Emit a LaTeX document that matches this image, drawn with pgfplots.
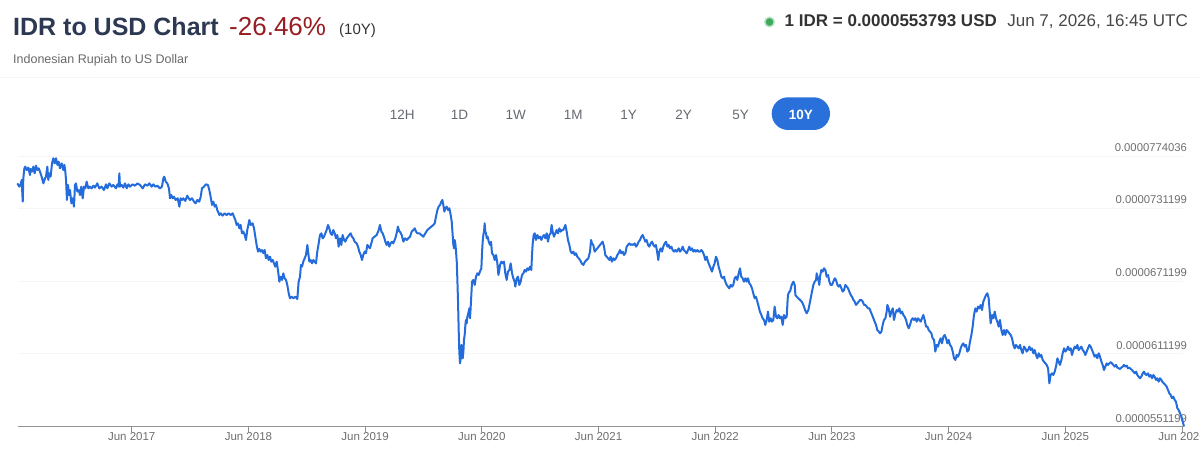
\documentclass[border=0pt]{standalone}
\usepackage{fontspec}
\setmainfont{Liberation Sans}
\usepackage{pgfplots}
\pgfplotsset{compat=1.18}
\usepackage{pgfplotstable}
\definecolor{lineblue}{RGB}{36,108,220}
\definecolor{pillblue}{RGB}{41,112,219}
\definecolor{titlenavy}{RGB}{45,57,82}
\definecolor{pctred}{RGB}{150,30,35}
\definecolor{subgray}{RGB}{105,105,105}
\definecolor{tickgray}{RGB}{110,110,110}
\definecolor{btngray}{RGB}{100,104,112}
\definecolor{dotgreen}{RGB}{60,170,90}

\pgfplotstableread{
year value
2016.434 75.18
2016.451 74.91
2016.462 75.10
2016.471 75.46
2016.480 73.67
2016.485 75.60
2016.494 76.42
2016.502 76.56
2016.514 76.28
2016.528 76.48
2016.542 75.87
2016.548 76.37
2016.559 76.15
2016.571 76.56
2016.582 76.01
2016.594 76.64
2016.605 76.28
2016.617 76.42
2016.628 76.15
2016.642 75.73
2016.657 75.18
2016.671 75.60
2016.679 75.73
2016.691 76.56
2016.699 75.46
2016.708 76.01
2016.719 75.73
2016.731 76.83
2016.742 77.25
2016.754 76.83
2016.765 77.25
2016.777 76.70
2016.788 76.97
2016.799 76.42
2016.814 76.83
2016.828 76.28
2016.837 76.70
2016.845 76.15
2016.851 75.46
2016.859 73.81
2016.868 75.05
2016.877 74.22
2016.885 74.63
2016.897 73.53
2016.908 73.95
2016.919 73.26
2016.928 75.05
2016.936 75.18
2016.948 74.50
2016.959 74.63
2016.971 74.22
2016.982 74.91
2016.994 73.95
2017.005 74.91
2017.016 74.77
2017.028 75.32
2017.042 74.77
2017.056 74.91
2017.071 74.77
2017.085 74.99
2017.099 74.83
2017.119 75.18
2017.136 74.77
2017.156 74.91
2017.176 74.63
2017.194 75.10
2017.205 74.77
2017.222 75.18
2017.242 74.91
2017.256 75.05
2017.279 74.77
2017.291 75.10
2017.302 74.91
2017.308 76.01
2017.313 74.91
2017.328 75.05
2017.342 74.83
2017.356 75.18
2017.371 74.77
2017.385 75.10
2017.399 74.91
2017.422 75.10
2017.442 74.99
2017.462 75.18
2017.485 75.05
2017.508 74.77
2017.528 75.10
2017.548 74.99
2017.565 75.18
2017.585 74.91
2017.599 75.10
2017.616 74.91
2017.633 74.99
2017.656 74.77
2017.673 74.91
2017.685 75.60
2017.693 75.73
2017.705 75.32
2017.719 75.18
2017.733 74.77
2017.742 73.95
2017.753 74.22
2017.765 73.95
2017.776 74.08
2017.790 73.81
2017.808 73.95
2017.822 73.26
2017.833 73.95
2017.845 73.81
2017.856 73.95
2017.873 73.73
2017.890 74.17
2017.902 73.95
2017.913 73.81
2017.930 73.95
2017.948 73.67
2017.962 73.53
2017.976 73.81
2017.993 73.67
2018.005 74.08
2018.016 74.77
2018.033 74.91
2018.050 75.10
2018.067 75.05
2018.079 74.63
2018.090 74.08
2018.102 73.40
2018.113 73.67
2018.125 73.26
2018.136 73.40
2018.147 72.98
2018.165 72.57
2018.176 72.71
2018.193 72.52
2018.210 72.71
2018.227 72.57
2018.245 72.71
2018.262 72.57
2018.279 72.71
2018.290 72.43
2018.302 72.16
2018.313 71.75
2018.325 71.88
2018.336 71.47
2018.347 71.75
2018.359 71.06
2018.370 71.20
2018.382 70.92
2018.393 70.51
2018.404 71.33
2018.416 71.88
2018.422 72.16
2018.433 71.75
2018.450 71.88
2018.462 71.47
2018.473 70.78
2018.484 70.10
2018.496 69.55
2018.507 69.77
2018.519 69.55
2018.530 69.68
2018.542 69.41
2018.553 69.68
2018.564 69.00
2018.576 69.27
2018.587 68.86
2018.599 69.13
2018.610 68.72
2018.622 68.86
2018.633 68.58
2018.644 68.31
2018.656 68.72
2018.667 68.03
2018.679 67.07
2018.690 67.48
2018.702 67.21
2018.713 67.76
2018.724 67.35
2018.736 67.21
2018.747 66.80
2018.759 66.11
2018.770 65.70
2018.784 65.83
2018.799 65.70
2018.816 65.83
2018.833 65.64
2018.844 67.07
2018.856 67.48
2018.864 68.45
2018.873 68.31
2018.884 68.72
2018.896 69.00
2018.907 69.27
2018.919 70.10
2018.927 69.41
2018.936 68.72
2018.947 68.86
2018.959 68.58
2018.970 68.86
2018.981 68.72
2018.993 68.58
2019.004 69.55
2019.016 70.23
2019.027 70.92
2019.039 71.06
2019.050 70.65
2019.061 70.78
2019.073 71.06
2019.084 71.33
2019.096 71.75
2019.107 71.47
2019.118 71.06
2019.130 70.92
2019.141 71.33
2019.153 71.06
2019.164 70.65
2019.176 70.92
2019.187 69.96
2019.198 70.65
2019.210 70.10
2019.221 70.92
2019.233 70.51
2019.244 70.37
2019.256 70.65
2019.267 70.78
2019.278 70.92
2019.290 71.06
2019.301 70.78
2019.313 70.65
2019.324 70.37
2019.341 70.23
2019.353 69.96
2019.364 69.55
2019.376 69.27
2019.387 68.86
2019.398 69.27
2019.410 69.55
2019.421 69.41
2019.433 70.10
2019.444 69.96
2019.455 69.82
2019.467 70.23
2019.478 70.65
2019.495 70.78
2019.513 70.92
2019.530 71.33
2019.541 71.75
2019.553 71.20
2019.564 71.06
2019.575 70.78
2019.587 70.37
2019.598 70.10
2019.610 70.37
2019.621 69.96
2019.632 70.23
2019.644 70.37
2019.655 70.23
2019.673 70.65
2019.684 71.06
2019.695 71.61
2019.707 71.20
2019.713 71.20
2019.727 70.92
2019.742 70.37
2019.756 70.65
2019.770 70.51
2019.784 70.65
2019.799 70.78
2019.813 71.20
2019.827 71.33
2019.839 71.47
2019.850 71.20
2019.862 71.06
2019.879 71.06
2019.896 70.92
2019.913 70.78
2019.930 71.06
2019.947 71.33
2019.964 71.47
2019.981 71.61
2019.999 71.75
2020.010 71.88
2020.021 72.43
2020.033 72.98
2020.044 73.26
2020.056 73.40
2020.067 73.67
2020.076 73.81
2020.084 73.40
2020.093 72.85
2020.101 73.12
2020.113 73.26
2020.124 72.98
2020.136 73.12
2020.147 72.57
2020.156 72.02
2020.164 70.92
2020.170 70.10
2020.176 69.82
2020.181 70.51
2020.187 70.23
2020.193 69.55
2020.199 68.72
2020.204 67.35
2020.210 65.42
2020.216 62.95
2020.221 61.30
2020.227 60.33
2020.233 60.75
2020.239 61.85
2020.244 61.57
2020.250 60.75
2020.256 61.30
2020.261 62.26
2020.267 62.67
2020.273 63.50
2020.278 63.91
2020.284 63.63
2020.290 64.18
2020.298 64.46
2020.307 64.87
2020.313 64.05
2020.321 65.42
2020.330 67.07
2020.341 67.21
2020.353 66.80
2020.364 67.48
2020.376 67.76
2020.387 67.62
2020.398 67.90
2020.410 68.17
2020.416 69.55
2020.421 70.37
2020.427 70.92
2020.433 71.20
2020.438 71.88
2020.444 71.20
2020.450 71.06
2020.456 70.65
2020.464 70.78
2020.473 70.37
2020.484 70.10
2020.493 70.37
2020.501 69.41
2020.513 69.27
2020.524 68.86
2020.536 69.27
2020.547 68.58
2020.556 67.62
2020.564 68.03
2020.570 68.45
2020.581 68.72
2020.593 68.58
2020.604 68.72
2020.615 67.76
2020.627 67.21
2020.638 67.90
2020.650 68.03
2020.661 68.58
2020.673 67.76
2020.684 67.35
2020.695 67.07
2020.701 66.66
2020.713 67.35
2020.724 67.48
2020.735 66.80
2020.747 67.07
2020.758 67.62
2020.770 67.76
2020.781 68.03
2020.793 67.90
2020.804 68.17
2020.815 68.03
2020.827 68.31
2020.838 68.03
2020.844 69.27
2020.850 70.23
2020.858 70.92
2020.867 71.06
2020.878 70.51
2020.890 70.92
2020.901 70.65
2020.913 70.78
2020.924 70.51
2020.935 70.78
2020.947 70.92
2020.958 70.65
2020.970 71.06
2020.981 70.37
2020.992 70.92
2021.004 71.06
2021.012 71.75
2021.021 71.20
2021.032 70.78
2021.044 71.06
2021.055 71.33
2021.067 71.06
2021.078 71.47
2021.090 71.20
2021.101 71.33
2021.112 71.33
2021.124 71.61
2021.130 71.75
2021.141 71.20
2021.152 70.51
2021.164 70.10
2021.175 69.55
2021.187 69.41
2021.198 69.55
2021.210 69.27
2021.221 69.41
2021.232 69.13
2021.244 69.00
2021.255 68.86
2021.270 68.58
2021.284 68.45
2021.298 68.72
2021.312 68.86
2021.327 69.00
2021.341 69.55
2021.350 70.51
2021.358 70.23
2021.369 70.10
2021.381 69.55
2021.392 69.68
2021.404 69.82
2021.415 69.96
2021.427 70.10
2021.438 70.23
2021.449 70.37
2021.461 69.96
2021.472 69.27
2021.484 69.13
2021.495 69.00
2021.507 68.86
2021.518 69.13
2021.529 68.72
2021.541 69.00
2021.552 68.86
2021.564 69.00
2021.575 69.27
2021.586 69.41
2021.598 69.68
2021.609 69.41
2021.621 69.55
2021.632 69.27
2021.644 69.41
2021.655 69.96
2021.666 70.10
2021.678 70.23
2021.689 70.10
2021.701 70.15
2021.712 70.10
2021.724 70.23
2021.735 69.96
2021.746 70.10
2021.758 70.37
2021.769 70.51
2021.781 70.78
2021.792 70.92
2021.804 70.65
2021.815 70.37
2021.826 70.51
2021.838 70.10
2021.849 69.96
2021.861 70.23
2021.872 70.37
2021.884 70.10
2021.895 69.96
2021.906 70.10
2021.918 69.41
2021.926 68.86
2021.935 69.55
2021.946 69.82
2021.958 69.55
2021.969 69.96
2021.981 70.23
2021.992 70.37
2022.004 69.96
2022.015 70.10
2022.026 69.82
2022.038 69.96
2022.049 69.68
2022.061 69.55
2022.072 69.68
2022.084 69.55
2022.101 69.82
2022.112 69.55
2022.124 69.68
2022.135 69.96
2022.146 69.68
2022.158 69.55
2022.169 69.41
2022.181 69.68
2022.192 69.96
2022.203 69.68
2022.215 69.82
2022.226 69.55
2022.238 69.68
2022.249 69.55
2022.261 69.68
2022.272 69.55
2022.283 69.55
2022.295 69.68
2022.306 69.55
2022.318 69.27
2022.329 68.86
2022.341 69.13
2022.352 68.72
2022.363 68.45
2022.375 68.17
2022.386 67.90
2022.398 68.31
2022.409 68.58
2022.420 69.13
2022.432 68.86
2022.443 68.31
2022.455 67.90
2022.466 67.48
2022.478 67.35
2022.489 67.48
2022.500 67.07
2022.512 66.80
2022.523 66.66
2022.535 66.52
2022.546 66.80
2022.558 66.66
2022.569 66.80
2022.580 67.35
2022.592 67.48
2022.603 67.21
2022.615 67.76
2022.626 68.17
2022.637 67.48
2022.649 67.35
2022.660 67.07
2022.672 67.35
2022.683 67.07
2022.695 67.35
2022.706 66.93
2022.717 66.80
2022.729 66.52
2022.740 66.11
2022.752 65.70
2022.763 65.83
2022.775 65.42
2022.786 65.01
2022.797 64.60
2022.809 64.32
2022.820 64.05
2022.832 63.91
2022.843 63.50
2022.855 63.91
2022.866 64.60
2022.877 63.77
2022.889 64.05
2022.900 63.77
2022.912 63.91
2022.923 65.01
2022.935 64.18
2022.946 64.05
2022.957 64.32
2022.969 64.05
2022.980 64.18
2022.992 63.50
2023.003 64.32
2023.014 64.05
2023.026 64.18
2023.037 65.97
2023.049 66.25
2023.055 66.25
2023.069 66.80
2023.084 67.07
2023.095 66.80
2023.101 65.97
2023.112 65.83
2023.126 65.70
2023.141 65.56
2023.155 65.42
2023.169 65.15
2023.184 64.73
2023.198 64.46
2023.212 64.73
2023.221 65.15
2023.232 65.70
2023.243 66.25
2023.255 66.80
2023.266 67.07
2023.278 67.21
2023.283 67.76
2023.295 67.35
2023.306 66.80
2023.312 67.48
2023.323 68.03
2023.335 67.90
2023.346 68.17
2023.358 68.03
2023.369 67.48
2023.381 67.62
2023.392 67.07
2023.403 66.80
2023.415 66.80
2023.426 67.07
2023.438 67.35
2023.449 67.21
2023.461 66.80
2023.472 66.66
2023.483 66.80
2023.495 66.52
2023.506 66.25
2023.518 66.38
2023.529 66.80
2023.541 66.66
2023.552 66.52
2023.563 66.25
2023.575 65.97
2023.586 65.83
2023.598 65.56
2023.609 65.42
2023.620 65.15
2023.632 65.28
2023.643 65.42
2023.655 65.56
2023.666 65.56
2023.678 65.42
2023.689 65.15
2023.700 65.15
2023.712 65.01
2023.723 64.87
2023.735 64.87
2023.746 64.60
2023.758 64.32
2023.769 64.05
2023.780 63.77
2023.792 63.50
2023.803 63.08
2023.815 62.95
2023.826 62.81
2023.838 62.95
2023.849 63.50
2023.860 63.91
2023.872 64.05
2023.883 64.60
2023.889 65.15
2023.900 64.87
2023.912 64.18
2023.923 64.60
2023.935 64.87
2023.946 63.91
2023.958 64.46
2023.969 64.73
2023.980 64.60
2023.992 64.87
2024.003 64.46
2024.015 64.60
2024.026 64.32
2024.037 64.18
2024.049 63.91
2024.060 63.50
2024.072 63.22
2024.083 63.50
2024.095 63.91
2024.106 64.05
2024.117 63.91
2024.129 64.05
2024.140 63.77
2024.152 64.05
2024.163 63.91
2024.175 63.77
2024.186 64.05
2024.197 64.32
2024.209 63.91
2024.220 63.36
2024.232 63.36
2024.243 63.08
2024.255 62.95
2024.266 62.81
2024.277 62.40
2024.289 62.26
2024.300 61.30
2024.312 61.85
2024.323 61.71
2024.334 62.12
2024.346 62.40
2024.357 61.98
2024.369 62.53
2024.380 62.67
2024.392 62.40
2024.403 61.98
2024.414 62.26
2024.426 61.85
2024.437 61.71
2024.449 61.30
2024.460 60.75
2024.472 60.61
2024.483 61.02
2024.494 60.88
2024.506 61.16
2024.517 61.57
2024.529 61.85
2024.540 61.98
2024.552 61.71
2024.563 61.85
2024.574 61.30
2024.586 61.43
2024.597 62.12
2024.609 62.67
2024.620 63.36
2024.631 64.32
2024.643 64.87
2024.654 64.60
2024.666 65.01
2024.677 64.87
2024.689 65.15
2024.700 64.73
2024.711 65.42
2024.723 65.70
2024.734 65.97
2024.746 66.11
2024.757 65.70
2024.766 64.60
2024.774 63.63
2024.786 64.32
2024.797 64.05
2024.809 64.60
2024.820 64.05
2024.831 63.77
2024.843 63.36
2024.854 63.91
2024.866 63.08
2024.877 62.67
2024.889 63.08
2024.900 62.67
2024.911 63.08
2024.923 62.95
2024.934 62.81
2024.946 62.67
2024.957 62.40
2024.969 61.85
2024.980 61.57
2024.991 61.85
2025.003 61.71
2025.014 61.57
2025.026 61.85
2025.037 61.43
2025.048 61.16
2025.060 61.71
2025.071 61.57
2025.083 61.30
2025.094 61.43
2025.106 61.71
2025.117 61.43
2025.128 61.57
2025.140 61.16
2025.151 61.43
2025.163 61.02
2025.174 60.75
2025.186 61.16
2025.197 60.88
2025.208 61.02
2025.220 60.61
2025.231 60.47
2025.243 60.33
2025.254 60.20
2025.266 59.92
2025.277 58.68
2025.288 59.37
2025.300 59.51
2025.311 59.37
2025.323 59.65
2025.334 60.06
2025.346 60.75
2025.357 60.47
2025.368 60.20
2025.380 60.61
2025.391 61.16
2025.403 61.57
2025.414 61.30
2025.425 61.43
2025.437 61.71
2025.448 61.43
2025.460 61.57
2025.471 61.02
2025.483 61.43
2025.494 61.71
2025.505 61.57
2025.517 61.85
2025.528 61.43
2025.540 61.57
2025.551 61.71
2025.563 61.43
2025.574 61.30
2025.585 61.02
2025.597 61.30
2025.608 61.57
2025.620 61.85
2025.631 61.71
2025.643 61.43
2025.654 61.16
2025.665 60.88
2025.677 61.02
2025.688 60.75
2025.700 61.16
2025.711 60.88
2025.723 60.47
2025.734 60.20
2025.745 59.78
2025.757 60.06
2025.768 60.33
2025.780 60.20
2025.791 60.33
2025.802 60.42
2025.814 60.33
2025.825 60.20
2025.837 60.06
2025.848 60.20
2025.860 59.98
2025.871 59.92
2025.882 59.87
2025.894 59.98
2025.905 60.06
2025.917 60.20
2025.928 60.06
2025.940 60.14
2025.951 59.92
2025.962 59.98
2025.974 59.87
2025.985 59.78
2025.997 59.65
2026.008 59.51
2026.020 59.65
2026.031 59.37
2026.042 59.23
2026.054 59.10
2026.065 59.23
2026.077 59.51
2026.088 59.65
2026.099 59.43
2026.111 59.37
2026.122 59.51
2026.134 59.23
2026.145 59.37
2026.157 59.10
2026.168 59.37
2026.179 59.23
2026.191 58.96
2026.202 59.10
2026.214 58.82
2026.225 59.10
2026.237 58.96
2026.248 58.77
2026.259 58.68
2026.271 58.55
2026.282 58.41
2026.294 58.13
2026.305 57.86
2026.317 57.72
2026.328 57.45
2026.339 57.58
2026.351 57.31
2026.362 57.17
2026.374 56.62
2026.385 56.48
2026.397 56.21
2026.408 55.93
2026.420 55.52
2026.431 55.12
}\idrdata

\begin{document}
\begin{tikzpicture}
\path[use as bounding box] (0pt,0pt) rectangle (1200pt,-454pt);
% header, left
\node[anchor=base west, inner sep=0pt, text=titlenavy, font=\fontsize{25}{30}\selectfont\bfseries] at (13pt,-36pt) {IDR to USD Chart};
\node[anchor=base west, inner sep=0pt, text=pctred, font=\fontsize{26}{30}\selectfont] at (229pt,-36pt) {-26.46\%};
\node[anchor=base west, inner sep=0pt, text=black!80, font=\fontsize{15}{18}\selectfont] at (339pt,-35pt) {(10Y)};
\node[anchor=base west, inner sep=0pt, text=subgray, font=\fontsize{12.5}{15}\selectfont] at (13pt,-64pt) {Indonesian Rupiah to US Dollar};
% header, right
\node (date) [anchor=base east, inner sep=0pt, text=black!72, font=\fontsize{17}{20}\selectfont] at (1188pt,-27pt) {Jun 7, 2026, 16:45 UTC};
\node (rate) [anchor=base east, inner sep=0pt, text=black!80, font=\fontsize{17}{20}\selectfont\bfseries] at ([xshift=-10pt]date.base west) {1 IDR = 0.0000553793 USD};
\fill[dotgreen!35] ([xshift=-15pt,yshift=5pt]rate.base west) circle (5.5pt);
\fill[dotgreen] ([xshift=-15pt,yshift=5pt]rate.base west) circle (3.8pt);
% faint separator
\draw[black!4, line width=0.8pt] (0pt,-77pt) -- (1200pt,-77pt);
% range buttons
\foreach \lab/\cx in {12H/402.2, 1D/459.5, 1W/515.8, 1M/573.3, 1Y/628.7, 2Y/683.7, 5Y/740.7}
  \node[anchor=base, inner sep=0pt, text=btngray, font=\fontsize{13.5}{16}\selectfont] at (\cx pt,-119.3pt) {\lab};
\fill[pillblue, rounded corners=16.3pt] (771.7pt,-97.3pt) rectangle (830pt,-130pt);
\node[anchor=base, inner sep=0pt, text=white, font=\fontsize{13.5}{16}\selectfont\bfseries] at (800.8pt,-119.3pt) {10Y};

\begin{axis}[
  at={(18.3pt,-426.5pt)}, anchor=south west,
  scale only axis, width=1164.4pt, height=281.5pt,
  xmin=2016.442, xmax=2026.42, ymin=55.1199, ymax=78.346,
  clip=false,
  axis x line*=bottom, axis y line*=right,
  axis line style={-},
  x axis line style={draw=black!42, line width=1.3pt},
  y axis line style={draw=none},
  xtick={2017.414,2018.414,2019.414,2020.414,2021.414,2022.414,2023.414,2024.414,2025.414,2026.414},
  xticklabels={Jun 2017,Jun 2018,Jun 2019,Jun 2020,Jun 2021,Jun 2022,Jun 2023,Jun 2024,Jun 2025,Jun 2026},
  xtick align=outside, major tick length=5pt,
  xtick style={draw=black!45, line width=1pt},
  xticklabel style={font=\fontsize{11.5}{13}\selectfont, text=tickgray, anchor=base, yshift=-9pt},
  ytick={55.1199,61.1199,67.1199,73.1199,77.4036},
  yticklabels={0.0000551199,0.0000611199,0.0000671199,0.0000731199,0.0000774036},
  ytick style={draw=none},
  yticklabel style={font=\fontsize{11.3}{13}\selectfont, text=tickgray, anchor=base east, inner sep=0pt, xshift=4.5pt, yshift=4.5pt},
  ymajorgrids, y grid style={draw=black!4, line width=0.8pt},
]
\addplot[lineblue, line width=2pt, line join=round, no markers] table[x=year, y=value] {\idrdata};
\end{axis}
\end{tikzpicture}
\end{document}
